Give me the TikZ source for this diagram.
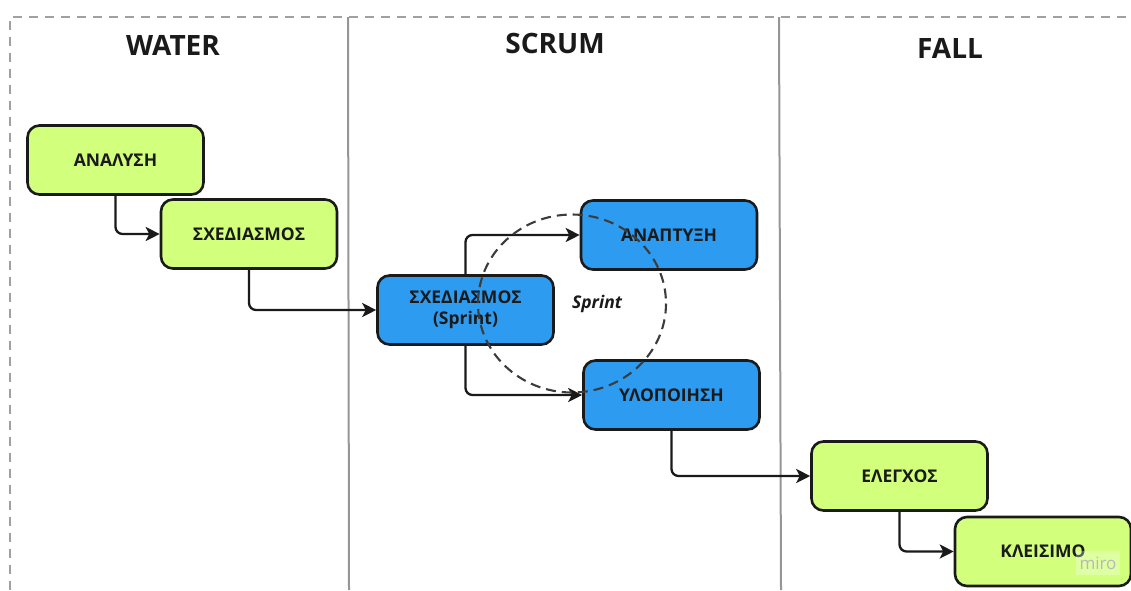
\documentclass[tikz,border=0pt]{standalone}
\usepackage{fontspec}
\setmainfont{Open Sans}
\usetikzlibrary{arrows.meta}
\definecolor{lime}{RGB}{210,255,124}
\definecolor{sky}{RGB}{45,155,240}
\definecolor{edge}{RGB}{26,26,26}
\definecolor{sep}{RGB}{150,150,150}
\tikzset{
  box/.style={draw=edge, line width=2.6pt, rounded corners=12pt, minimum width=176pt, minimum height=69pt, font=\fontsize{17.5}{21}\selectfont\bfseries, text=edge, align=center, inner sep=0pt},
  greenbox/.style={box, fill=lime},
  bluebox/.style={box, fill=sky},
  flow/.style={draw=edge, line width=2.3pt, rounded corners=7pt, -{Stealth[length=14pt,width=14pt,inset=3.5pt]}},
  title/.style={font=\fontsize{28}{32}\selectfont\bfseries, text=edge},
  lane/.style={draw=sep, line width=2pt},
  frame/.style={draw=sep!90, line width=2pt, dash pattern=on 9pt off 7pt}
}
\begin{document}
\begin{tikzpicture}[x=1pt,y=-1pt]
\useasboundingbox (0,0) rectangle (1131,590);
% frame and lanes
\draw[frame] (10,590) -- (10,17) -- (1131,17);
\draw[lane] (348,17) -- (349,590);
\draw[lane] (779,17) -- (781,590);
% titles
\node[title] (tw) at (173,45) {WATER};
\node[title] (ts) at (555,43) {SCRUM};
\node[title] (tf) at (950,48) {FALL};
% nodes
\node[greenbox] (an) at (115.5,160) {ΑΝΑΛΥΣΗ};
\node[greenbox] (sx) at (249,234) {ΣΧΕΔΙΑΣΜΟΣ};
\node[bluebox] (sp) at (465.5,310) {ΣΧΕΔΙΑΣΜΟΣ\\(Sprint)};
\node[bluebox] (anp) at (669,235) {ΑΝΑΠΤΥΞΗ};
\node[bluebox] (yl) at (671.5,395) {ΥΛΟΠΟΙΗΣΗ};
\node[greenbox] (el) at (899.5,476) {ΕΛΕΓΧΟΣ};
\node[greenbox] (kl) at (1043,551.5) {ΚΛΕΙΣΙΜΟ};
% connectors
\draw[flow] (an.south) |- (sx.west);
\draw[flow] (sx.south) |- (sp.west);
\draw[flow] (sp.north) |- (anp.west);
\draw[flow] (sp.south) |- (yl.west);
\draw[flow] (yl.south) |- (el.west);
\draw[flow] (el.south) |- (kl.west);
% sprint loop
\coordinate (c) at (572,303.5);
\draw[draw=edge!85, line width=2.1pt, dash pattern=on 10pt off 6pt] (c) ellipse [x radius=94, y radius=89];
\node[font=\fontsize{17.5}{21}\selectfont\bfseries\itshape, text=edge] (sl) at (597,304) {Sprint};
% watermark
\node[fill=white, fill opacity=0.3, text opacity=1, text=black!28, font=\fontsize{17}{20}\selectfont, minimum width=44pt, minimum height=24pt, inner sep=0pt] (mw) at (1098,563) {miro};
\end{tikzpicture}
\end{document}
